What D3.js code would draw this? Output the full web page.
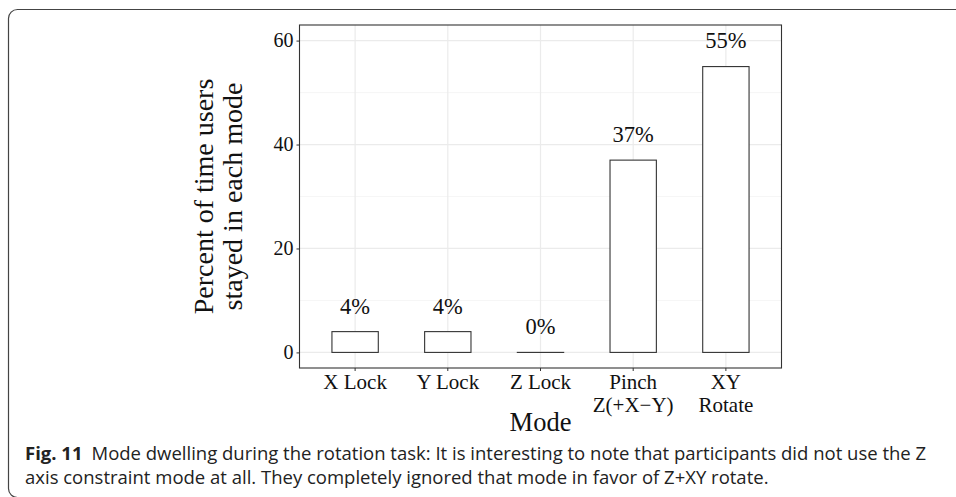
<!DOCTYPE html>
<html>
<head>
<meta charset="utf-8">
<script src="https://cdn.jsdelivr.net/npm/d3@7"></script>
<style>
  body { margin: 0; background: #fff; }
  svg { display: block; }
</style>
</head>
<body>
<div class="board"></div>
<script>
var width = 956, height = 497

// data
var modes = ["X Lock", "Y Lock", "Z Lock", "Pinch\nZ(+X\u2212Y)", "XY\nRotate"]
var percents = [4, 4, 0, 37, 55]
var yTicks = [0, 20, 40, 60]
var yMinor = [10, 30, 50]

var PANEL = { left: 299.5, right: 781.5, top: 25, bottom: 368 }
var SERIF = "'Liberation Serif', 'DejaVu Serif', serif"
var SANS = "'Open Sans', 'Noto Sans', sans-serif"

var svg = d3.select(".board")
    .append("svg")
    .attr("width", width)
    .attr("height", height)

// outer caption frame (runs off the right and bottom)
svg.append("rect")
    .attr("x", 8.5)
    .attr("y", 9.5)
    .attr("width", 1000)
    .attr("height", 488)
    .attr("rx", 9)
    .attr("fill", "none")
    .attr("stroke", "#444")
    .attr("stroke-width", 1.2)

var x = d3.scaleBand()
    .domain(modes)
    .range([PANEL.left, PANEL.right])
    .paddingOuter(0.1)
    .paddingInner(0)

// ggplot style continuous expansion around 0..60
var y = d3.scaleLinear()
    .domain([-3, 63])
    .range([PANEL.bottom, PANEL.top])

var xc = d => x(d) + x.bandwidth() / 2

var plot = svg.append("g")

// grid
plot.selectAll(".minor")
    .data(yMinor)
    .enter()
    .append("line")
    .attr("x1", PANEL.left).attr("x2", PANEL.right)
    .attr("y1", d => y(d)).attr("y2", d => y(d))
    .attr("stroke", "#f4f4f4")
    .attr("stroke-width", 0.8)

plot.selectAll(".major")
    .data(yTicks)
    .enter()
    .append("line")
    .attr("x1", PANEL.left).attr("x2", PANEL.right)
    .attr("y1", d => y(d)).attr("y2", d => y(d))
    .attr("stroke", "#ebebeb")
    .attr("stroke-width", 1.2)

plot.selectAll(".vgrid")
    .data(modes)
    .enter()
    .append("line")
    .attr("x1", d => xc(d)).attr("x2", d => xc(d))
    .attr("y1", PANEL.top).attr("y2", PANEL.bottom)
    .attr("stroke", "#ebebeb")
    .attr("stroke-width", 1.2)

// bars (a zero bar still shows as a flat line)
var barW = x.bandwidth() * 0.5
plot.selectAll(".bar")
    .data(modes)
    .enter()
    .append("rect")
    .attr("x", d => xc(d) - barW / 2)
    .attr("y", (d, i) => y(percents[i]))
    .attr("width", barW)
    .attr("height", (d, i) => Math.max(y(0) - y(percents[i]), 0.01))
    .attr("fill", "white")
    .attr("stroke", "#333")
    .attr("stroke-width", 1.1)

// value labels, placed 5 units above the bar
plot.selectAll(".valueLabel")
    .data(modes)
    .enter()
    .append("text")
    .attr("x", d => xc(d))
    .attr("y", (d, i) => y(percents[i] + 5))
    .attr("dy", "0.35em")
    .attr("text-anchor", "middle")
    .attr("font-family", SERIF)
    .attr("font-size", 22.5)
    .attr("fill", "#111")
    .text((d, i) => percents[i] + "%")

// panel border
svg.append("rect")
    .attr("x", PANEL.left)
    .attr("y", PANEL.top)
    .attr("width", PANEL.right - PANEL.left)
    .attr("height", PANEL.bottom - PANEL.top)
    .attr("fill", "none")
    .attr("stroke", "#333")
    .attr("stroke-width", 1.1)

// y axis
var yAxis = svg.append("g")
    .attr("transform", `translate(${PANEL.left},0)`)
    .call(d3.axisLeft(y).tickValues(yTicks).tickSize(3).tickPadding(3))
yAxis.select(".domain").remove()
yAxis.selectAll("line").attr("stroke", "#333")
yAxis.selectAll("text")
    .attr("font-family", SERIF)
    .attr("font-size", 20)
    .attr("fill", "#111")

// x axis
var xAxis = svg.append("g")
    .attr("transform", `translate(0,${PANEL.bottom})`)
    .call(d3.axisBottom(x).tickSize(3).tickFormat(""))
xAxis.select(".domain").remove()
xAxis.selectAll("line").attr("stroke", "#333")

svg.selectAll(".xLabel")
    .data(modes)
    .enter()
    .append("text")
    .attr("text-anchor", "middle")
    .attr("font-family", SERIF)
    .attr("font-size", 21)
    .attr("fill", "#111")
    .each(function(d) {
        var lines = d.split("\n")
        d3.select(this).selectAll("tspan")
            .data(lines)
            .enter()
            .append("tspan")
            .attr("x", xc(d))
            .attr("y", (l, i) => 389 + i * 23)
            .text(l => l)
    })

// axis titles
svg.append("text")
    .attr("x", (PANEL.left + PANEL.right) / 2)
    .attr("y", 431)
    .attr("text-anchor", "middle")
    .attr("font-family", SERIF)
    .attr("font-size", 26.5)
    .attr("fill", "#111")
    .text("Mode")

var yTitle = svg.append("text")
    .attr("transform", `translate(213,${(PANEL.top + PANEL.bottom) / 2}) rotate(-90)`)
    .attr("text-anchor", "middle")
    .attr("font-family", SERIF)
    .attr("font-size", 28)
    .attr("fill", "#111")
yTitle.append("tspan").attr("x", 0).attr("y", 0).text("Percent of time users")
yTitle.append("tspan").attr("x", 0).attr("y", 29).text("stayed in each mode")

// caption
var cap = svg.append("text")
    .attr("font-family", SANS)
    .attr("font-size", 18.5)
    .attr("fill", "#222")
var l1 = cap.append("tspan").attr("x", 25).attr("y", 460)
l1.append("tspan").attr("font-weight", "bold").text("Fig. 11")
l1.append("tspan").attr("dx", 9).text("Mode dwelling during the rotation task: It is interesting to note that participants did not use the Z")
cap.append("tspan").attr("x", 25).attr("y", 484)
    .text("axis constraint mode at all. They completely ignored that mode in favor of Z+XY rotate.")
</script>
</body>
</html>
